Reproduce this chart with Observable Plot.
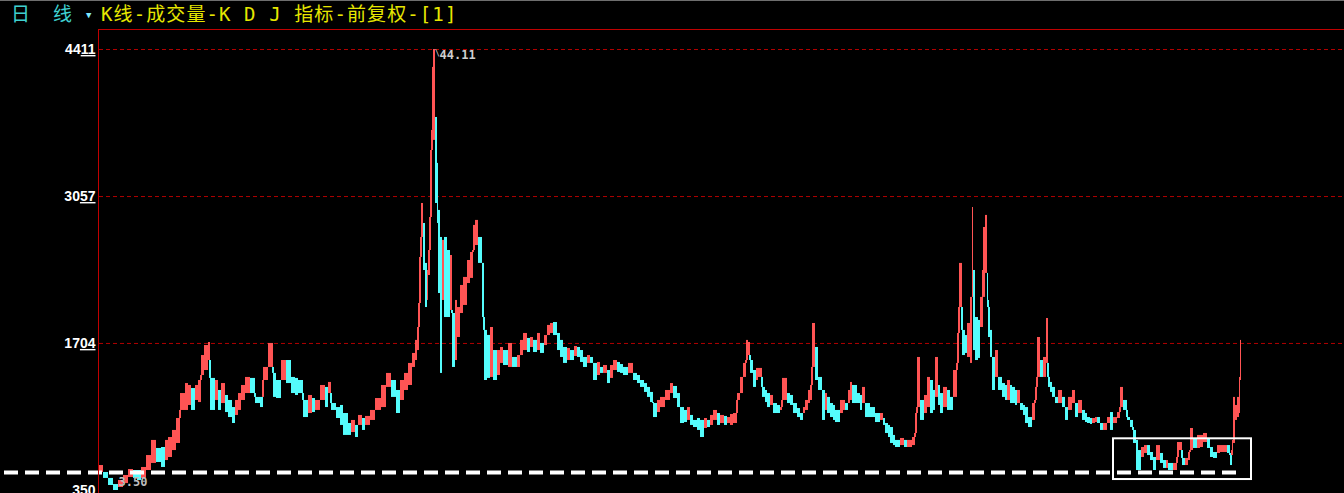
<!DOCTYPE html>
<html><head><meta charset="utf-8">
<script src="https://cdn.jsdelivr.net/npm/d3@7"></script>
<script src="https://cdn.jsdelivr.net/npm/@observablehq/plot@0.6"></script>
<style>
html,body{margin:0;padding:0;background:#000;overflow:hidden;width:1344px;height:493px;}
#hdr{height:29px;position:relative;box-sizing:border-box;border-top:1px solid #6e6e6e;font-size:19px;line-height:27px;white-space:pre;font-family:"DejaVu Sans Mono","Noto Sans CJK SC",monospace;}
#hdr span{position:absolute;top:0;}
.cy{color:#3fd0d0;}
.ye{color:#e6e600;letter-spacing:1.1px;}
.tri{color:#7fe8ff;font-size:9px;}
#wrap{position:relative;height:464px;}
#frame{position:absolute;left:98px;top:0;right:0;bottom:0;border-top:1px solid #c00000;border-left:1px solid #c00000;pointer-events:none;}
</style></head>
<body>
<div id="hdr"><span class="cy" style="left:11px">日</span><span class="cy" style="left:53px">线</span><span class="tri" style="left:86px;top:1px">▼</span><span class="ye" style="left:101px">K线-成交量-K D J 指标-前复权-[1]</span></div>
<div id="wrap"><div id="chart"></div><div id="frame"></div></div>
<script>
// trading-day index of each sampled stretch of candles
const bar = [
0,4,9,14,19,24,29,34,38,42,
47,52,57,62,66,69,73,77,81,86,
89,92,96,99,102,105,109,111,116,119,
122,126,129,133,136,139,142,146,151,156,
161,164,169,174,177,182,187,192,196,199,
204,209,213,216,221,226,229,232,237,241,
244,249,252,256,259,263,266,271,276,282,
287,292,297,301,305,309,313,316,318,320,
322,324,326,328,329,331,333,334,336,338,
339,341,343,345,348,351,353,356,358,361,
364,368,371,374,376,379,383,385,388,391,
394,398,401,404,409,413,418,421,424,428,
431,434,438,441,445,448,451,454,458,461,
464,468,471,475,478,481,484,488,491,494,
498,501,504,508,511,514,518,521,524,529,
534,538,541,545,548,551,554,558,561,566,
571,574,578,581,585,588,591,594,598,601,
605,608,611,614,618,621,625,628,631,634,
638,641,644,647,649,651,654,657,659,663,
666,668,671,674,678,681,683,688,691,694,
698,701,704,706,709,711,713,716,719,723,
726,728,731,734,736,741,744,746,749,751,
753,758,761,763,766,771,776,781,784,786,
789,791,794,796,801,805,808,813,816,818,
821,825,828,831,834,836,839,841,844,848,
851,854,858,860,863,866,868,871,873,874,
876,879,881,883,884,886,888,889,891,893,
896,899,903,906,908,911,913,916,918,921,
924,926,929,933,936,938,941,944,947,949,
951,953,956,959,963,966,969,973,976,979,
983,986,988,991,993,996,998,1001,1004,1008,
1011,1014,1018,1021,1024,1028,1031,1034,1037,1039,
1042,1045,1048,1051,1054,1057,1061,1064,1067,1069,
1074,1078,1080,1083,1086,1089,1091,1094,1098,1101,
1104,1108,1111,1114,1118,1121,1124,1128,1131,1133,
1134,1136,1138,1140,1141
];
const high = [
5.80,5.16,4.61,4.05,4.42,4.88,5.43,5.34,5.34,5.62,
6.72,8.11,7.37,7.46,8.11,8.38,9.03,10.13,12.43,13.35,
13.17,12.89,13.17,13.63,15.93,16.85,17.13,13.82,13.63,12.71,
13.35,12.25,11.79,11.14,11.79,12.43,13.17,13.91,13.82,12.07,
12.07,14.83,17.04,14.28,13.63,15.47,15.47,13.91,13.82,13.63,
11.79,12.25,11.97,11.79,13.17,12.99,13.45,11.51,11.14,11.33,
10.59,9.67,9.95,9.49,10.41,10.13,10.32,10.87,11.97,13.17,
14.28,13.63,12.71,13.63,14.28,15.20,16.12,17.32,18.51,24.96,
29.93,28.09,24.41,23.76,25.60,34.81,42.46,44.11,37.85,33.62,
29.29,26.80,26.53,26.80,25.60,25.14,19.80,21.00,20.35,22.38,
23.12,24.68,25.42,27.91,28.37,26.80,24.41,18.24,17.78,18.51,
16.39,16.39,16.67,16.39,17.04,15.75,15.93,17.32,17.96,17.50,
17.59,17.32,17.96,17.04,17.77,18.70,18.88,18.97,17.96,17.32,
16.67,16.58,16.39,16.76,16.67,16.39,15.75,15.93,15.75,15.20,
15.29,14.83,15.01,14.55,15.01,15.47,15.29,15.10,14.83,15.20,
14.28,14.09,13.63,13.35,12.99,12.53,11.51,11.79,12.07,12.71,
13.35,13.08,12.43,11.14,10.87,11.14,10.41,9.95,10.13,9.95,
10.13,9.95,10.41,10.87,10.59,10.41,10.32,10.22,10.50,10.59,
12.43,13.91,15.20,17.32,17.13,15.47,14.55,14.74,14.74,12.99,
12.71,12.43,12.25,11.51,11.33,11.14,13.82,12.43,12.25,11.51,
11.05,10.59,11.14,11.79,12.71,13.17,18.88,16.67,13.91,12.71,
12.43,12.07,11.51,11.33,10.87,11.79,11.79,11.51,12.71,13.45,
13.17,12.43,12.25,12.99,11.51,11.14,10.59,10.59,10.13,9.67,
9.49,9.30,8.57,8.11,8.29,8.11,8.11,8.38,10.59,15.75,
11.79,12.25,13.91,13.63,12.71,15.75,13.17,12.43,12.99,12.71,
12.07,14.55,17.96,24.41,18.24,17.77,18.88,21.28,29.56,23.76,
19.43,19.16,21.28,23.76,27.72,28.83,23.49,20.35,18.24,15.75,
16.39,13.91,13.35,13.17,13.63,13.17,12.99,12.71,12.71,11.51,
11.33,11.14,10.22,11.51,12.99,17.59,15.47,15.75,19.34,13.91,
13.45,12.99,12.07,12.71,12.07,11.14,12.07,12.71,11.51,11.79,
10.87,10.59,10.22,10.13,10.13,10.22,10.22,9.67,9.67,10.22,
10.68,10.22,10.68,12.99,11.79,10.22,9.95,9.03,8.11,7.18,
7.46,7.64,7.64,7.00,6.54,7.64,6.91,6.26,6.26,5.99,
5.99,7.92,7.92,6.45,6.45,7.00,9.21,8.29,8.57,8.57,
8.75,8.29,7.46,7.00,7.64,7.64,7.64,7.64,6.72,8.11,
12.07,11.33,12.07,13.91,17.32
];
const low = [
5.16,4.61,3.96,3.50,3.78,4.14,4.70,4.61,4.42,4.61,
5.34,5.99,6.08,5.62,6.26,6.54,7.18,7.83,10.87,10.87,
11.33,10.87,11.79,11.60,14.09,14.55,15.47,10.87,11.79,10.87,
11.51,10.68,10.22,9.67,10.41,10.87,11.79,12.43,12.43,11.51,
11.14,13.63,14.83,12.07,11.97,13.63,13.35,12.43,12.25,12.43,
10.22,10.59,10.68,10.87,11.79,11.14,12.43,10.87,10.13,9.49,
8.57,8.57,8.84,8.38,9.49,9.03,9.49,9.95,10.87,11.14,
12.99,12.07,10.59,11.79,12.71,13.17,14.83,15.47,16.39,20.72,
26.80,23.76,20.35,21.00,23.30,28.64,36.66,35.74,29.93,28.09,
21.64,14.28,21.00,19.43,19.43,20.08,14.83,15.47,17.59,19.80,
20.54,22.56,23.03,25.60,26.06,24.41,19.43,13.63,13.82,13.91,
13.63,14.09,15.20,15.01,14.83,14.83,14.83,15.93,16.39,16.21,
16.67,16.21,16.39,16.12,16.85,17.77,17.96,17.77,16.39,15.75,
15.20,15.47,15.47,15.84,15.75,15.29,14.83,15.20,15.20,13.63,
14.09,14.28,14.28,13.35,13.82,14.55,14.37,14.28,14.09,14.28,
13.63,13.35,12.99,12.53,12.07,11.60,10.22,10.68,11.14,11.79,
12.43,11.97,11.14,9.67,9.76,9.95,9.49,9.30,9.03,8.38,
9.21,9.30,9.49,9.95,9.49,9.67,9.49,9.67,9.49,9.67,
11.79,12.43,13.91,15.47,15.93,14.28,12.99,13.63,13.91,12.07,
11.60,11.14,11.33,10.59,10.59,10.87,11.79,11.51,11.33,10.59,
10.22,9.95,10.59,10.87,11.51,11.79,14.83,13.63,12.71,9.95,
10.87,10.59,10.22,9.95,9.76,10.59,10.87,10.87,11.51,11.79,
11.51,11.51,10.87,11.51,10.22,10.22,9.76,9.95,9.49,8.75,
8.38,7.83,7.64,7.46,7.64,7.46,7.46,7.64,8.75,11.14,
9.95,10.59,11.14,10.59,10.87,12.07,11.33,10.59,11.14,10.87,
10.87,12.07,15.20,20.35,15.93,16.12,15.75,15.20,21.28,16.39,
15.47,15.66,18.51,18.51,21.28,23.49,21.00,17.59,15.75,12.71,
13.91,12.71,12.07,11.79,11.79,11.51,11.51,11.33,11.51,10.87,
10.41,9.67,9.30,9.95,11.79,13.91,13.91,13.91,15.20,12.99,
12.53,12.07,11.51,11.51,11.14,9.95,10.87,11.51,10.22,10.59,
9.95,9.76,9.67,9.58,9.67,9.76,9.67,9.03,9.03,9.67,
9.03,9.67,10.13,11.14,10.87,9.95,9.30,7.83,5.34,5.34,
6.54,6.91,6.72,6.26,5.34,6.26,5.99,5.53,5.53,5.34,
5.34,6.54,7.18,5.80,5.80,6.26,7.18,7.37,7.37,7.46,
7.92,7.37,6.54,6.45,6.91,7.00,7.00,6.91,5.80,7.18,
7.83,9.95,10.22,10.59,13.63
];
const yTicks = [44.11, 30.57, 17.04, 3.50];
const gridLevels = [44.11, 30.57, 17.04];
const peakLabel = [{bar: 334, value: 44.11, text: "44.11"}];
const lowLabel = [{bar: 14, value: 3.50, text: "3.50"}];
const supportLine = [{level: 5.16, from: -99, to: 1137}];
const boxZone = [{from: 1014, to: 1152, lo: 4.51, hi: 8.26}];

const UP = "#ff5454", DOWN = "#54fcfc";
const idx = d3.range(bar.length);
const mid = i => (high[i] + low[i]) / 2;
const isUp = i => i === 0 || mid(i) >= mid(i - 1);
const upIdx = idx.filter(isUp);
const downIdx = idx.filter(i => !isUp(i));
const x2Of = i => (i + 1 < bar.length ? bar[i + 1] : bar[i] + 1);
// bridges: where two neighbouring stretches do not overlap, the candles in between span the gap
const gapIdx = idx.filter(i => i > 0 && (low[i] > high[i - 1] || high[i] < low[i - 1]));
const gapLo = i => (low[i] > high[i - 1] ? high[i - 1] : high[i]);
const gapHi = i => (low[i] > high[i - 1] ? low[i] : low[i - 1]);

const chart = Plot.plot({
  width: 1344,
  height: 464,
  marginLeft: 99,
  marginRight: 0,
  marginTop: 20,
  marginBottom: 3,
  style: {background: "#000", color: "#fff", overflow: "visible"},
  x: {domain: [0, 1245], axis: null},
  y: {domain: [3.5, 44.11]},
  marks: [
    Plot.ruleY(gridLevels, {stroke: "#b00000", strokeDasharray: "4,3", strokeWidth: 1}),
    Plot.rect(upIdx, {x1: i => bar[i], x2: x2Of, y1: i => low[i], y2: i => high[i], fill: UP}),
    Plot.rect(downIdx, {x1: i => bar[i], x2: x2Of, y1: i => low[i], y2: i => high[i], fill: DOWN}),
    Plot.rect(gapIdx, {x1: i => bar[i] - 1, x2: i => bar[i] + 1, y1: gapLo, y2: gapHi, fill: i => (isUp(i) ? UP : DOWN)}),
    Plot.ruleY(supportLine, {y: "level", x1: "from", x2: "to", stroke: "#fff", strokeWidth: 4, strokeDasharray: "14,7", strokeDashoffset: 17}),
    Plot.rect(boxZone, {x1: "from", x2: "to", y1: "lo", y2: "hi", fill: "none", stroke: "#fff", strokeWidth: 2}),
    Plot.text(peakLabel, {x: "bar", y: "value", text: () => "\\", dx: 4, dy: 4, fill: "#cfcfcf", fontSize: 8, fontFamily: "DejaVu Sans Mono"}),
    Plot.text(peakLabel, {x: "bar", y: "value", text: "text", dx: 6, dy: 6, textAnchor: "start", fill: "#cfcfcf", fontSize: 12, fontWeight: "bold", fontFamily: "DejaVu Sans Mono"}),
    Plot.text(lowLabel, {x: "bar", y: "value", text: "text", dx: 5, dy: -8, textAnchor: "start", fill: "#bdbdbd", fontSize: 12, fontWeight: "bold", fontFamily: "DejaVu Sans Mono"}),
    Plot.axisY(yTicks, {tickSize: 0, tickPadding: 4, tickFormat: d => d.toFixed(2), label: null, fill: "#fff", fontSize: 14, fontWeight: "bold", fontFamily: "Liberation Sans"})
  ]
});
document.getElementById("chart").appendChild(chart);

// decimal part of tick labels is underlined (like the source terminal)
const NS = "http://www.w3.org/2000/svg";
chart.querySelectorAll('g[aria-label="y-axis tick label"] text').forEach(t => {
  const s = t.textContent;
  const parts = s.split(".");
  if (parts.length === 2) {
    t.textContent = parts[0];
    const ts = document.createElementNS(NS, "tspan");
    ts.textContent = parts[1];
    ts.setAttribute("text-decoration", "underline");
    t.appendChild(ts);
  }
  t.setAttribute("font-weight", "bold");
  t.setAttribute("font-size", "14");
  t.setAttribute("font-family", "Liberation Sans, Arial, sans-serif");
  t.setAttribute("fill", "#fff");
});
</script>
</body></html>
